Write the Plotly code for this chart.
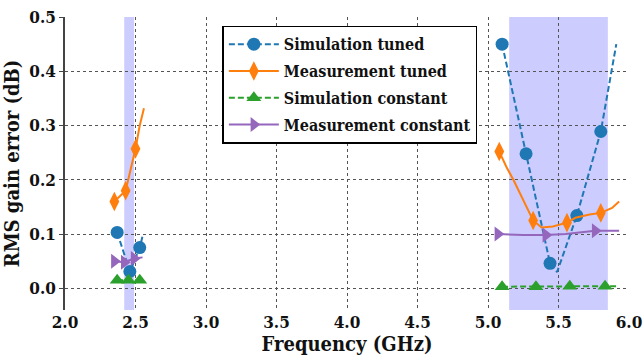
import plotly.graph_objects as go

# ---------------- data ----------------
# Simulation tuned (dense curve + markers)
sim_tuned_line_x = [2.37, 2.46, 2.53, 2.55, None, 5.10, 5.27, 5.44, 5.49, 5.63, 5.80, 5.91]
sim_tuned_line_y = [0.103, 0.031, 0.075, 0.096, None, 0.450, 0.248, 0.046, 0.030, 0.134, 0.289, 0.450]
sim_tuned_mk_x = [2.37, 2.46, 2.53, 5.10, 5.27, 5.44, 5.63, 5.80]
sim_tuned_mk_y = [0.103, 0.031, 0.075, 0.450, 0.248, 0.046, 0.134, 0.289]

# Measurement tuned
meas_tuned_line_x = [2.35, 2.43, 2.50, 2.53, 2.56, None,
                     5.08, 5.13, 5.18, 5.25, 5.32, 5.38, 5.46, 5.56, 5.62, 5.72, 5.80, 5.88, 5.93]
meas_tuned_line_y = [0.160, 0.180, 0.257, 0.300, 0.332, None,
                     0.252, 0.224, 0.200, 0.163, 0.125, 0.112, 0.114, 0.121, 0.130, 0.136, 0.139, 0.148, 0.160]
meas_tuned_mk_x = [2.35, 2.43, 2.50, 5.08, 5.32, 5.56, 5.80]
meas_tuned_mk_y = [0.160, 0.180, 0.257, 0.252, 0.125, 0.121, 0.139]

# Simulation constant
sim_const_line_x = [2.37, 2.45, 2.53, None, 5.10, 5.34, 5.58, 5.83, 5.92]
sim_const_line_y = [0.015, 0.015, 0.015, None, 0.003, 0.003, 0.004, 0.004, 0.004]
sim_const_mk_x = [2.37, 2.45, 2.53, 5.10, 5.34, 5.58, 5.83]
sim_const_mk_y = [0.015, 0.015, 0.015, 0.003, 0.003, 0.004, 0.004]

# Measurement constant
meas_const_line_x = [2.35, 2.42, 2.49, 2.55, None, 5.07, 5.25, 5.41, 5.55, 5.76, 5.93]
meas_const_line_y = [0.050, 0.048, 0.055, 0.057, None, 0.100, 0.098, 0.098, 0.100, 0.106, 0.106]
meas_const_mk_x = [2.35, 2.42, 2.49, 5.07, 5.41, 5.76]
meas_const_mk_y = [0.050, 0.048, 0.055, 0.100, 0.098, 0.106]

# shaded bands (GHz)
band_starts = [2.42, 5.15]
band_ends = [2.49, 5.85]

x_ticks = [2.0, 2.5, 3.0, 3.5, 4.0, 4.5, 5.0, 5.5, 6.0]
y_ticks = [0.0, 0.1, 0.2, 0.3, 0.4, 0.5]

names = ["Simulation tuned", "Measurement tuned", "Simulation constant", "Measurement constant"]
colors = ["#1f77b4", "#ff7f0e", "#2ca02c", "#9467bd"]
symbols = ["circle", "diamond-tall", "triangle-up", "triangle-right"]
sizes = [13, 14, 13, 13]
dashes = ["6px,3px", "solid", "6px,3px", "solid"]

series = [
    (sim_tuned_line_x, sim_tuned_line_y, sim_tuned_mk_x, sim_tuned_mk_y),
    (meas_tuned_line_x, meas_tuned_line_y, meas_tuned_mk_x, meas_tuned_mk_y),
    (sim_const_line_x, sim_const_line_y, sim_const_mk_x, sim_const_mk_y),
    (meas_const_line_x, meas_const_line_y, meas_const_mk_x, meas_const_mk_y),
]

fig = go.Figure()
for i, (lx, ly, mx, my) in enumerate(series):
    fig.add_trace(go.Scatter(x=lx, y=ly, mode="lines", showlegend=False,
                             legendgroup=names[i], hoverinfo="skip",
                             line=dict(color=colors[i], width=2, dash=dashes[i])))
    fig.add_trace(go.Scatter(x=mx, y=my, mode="markers", showlegend=False,
                             legendgroup=names[i],
                             marker=dict(color=colors[i], symbol=symbols[i], size=sizes[i],
                                         line=dict(width=0))))
    # legend entry
    fig.add_trace(go.Scatter(x=[None], y=[None], mode="lines+markers", name="<b>" + names[i] + "</b>",
                             legendgroup=names[i],
                             line=dict(color=colors[i], width=2, dash=dashes[i]),
                             marker=dict(color=colors[i], symbol=symbols[i], size=sizes[i],
                                         line=dict(width=0))))

for s, e in zip(band_starts, band_ends):
    fig.add_shape(type="rect", xref="x", yref="paper", x0=s, x1=e, y0=0, y1=1,
                  fillcolor="rgba(0,0,255,0.2)", line=dict(width=0), layer="below")

FAM = "DejaVu Serif Condensed, DejaVu Serif"
tick_font = dict(family=FAM, size=17, color="#111")
title_font = dict(family=FAM, size=20, color="#111")

fig.update_layout(
    width=643, height=360,
    margin=dict(l=65, r=14, t=17, b=50, autoexpand=False),
    paper_bgcolor="white", plot_bgcolor="white",
    showlegend=True,
    font=dict(family=FAM),
    legend=dict(x=0.279, y=0.97, xanchor="left", yanchor="top",
                bgcolor="white", bordercolor="black", borderwidth=1.5,
                font=dict(family=FAM, size=16, color="#111"),
                itemwidth=50, tracegroupgap=3),
    xaxis=dict(range=[2.0, 6.0], tickvals=x_ticks, ticktext=[f"<b>{v:.1f}</b>" for v in x_ticks],
               showgrid=True, gridcolor="#555", gridwidth=1, griddash="dot",
               zeroline=False, showline=False, ticks="", tickfont=tick_font,
               automargin=False,
               title=dict(text="<b>Frequency (GHz)</b>", font=title_font, standoff=0)),
    yaxis=dict(range=[-0.04, 0.5], tickvals=y_ticks, ticktext=[f"<b>{v:.1f}</b>" for v in y_ticks],
               showgrid=True, gridcolor="#555", gridwidth=1, griddash="dot",
               zeroline=False, showline=True, linecolor="#444", linewidth=1.5,
               ticks="outside", ticklen=4, tickcolor="#444", tickfont=tick_font,
               automargin=False,
               title=dict(text="<b>RMS gain error (dB)</b>", font=title_font, standoff=8)),
)

fig.write_html("out.html", config={"displayModeBar": False},
               post_script="document.body.style.margin='0';")
